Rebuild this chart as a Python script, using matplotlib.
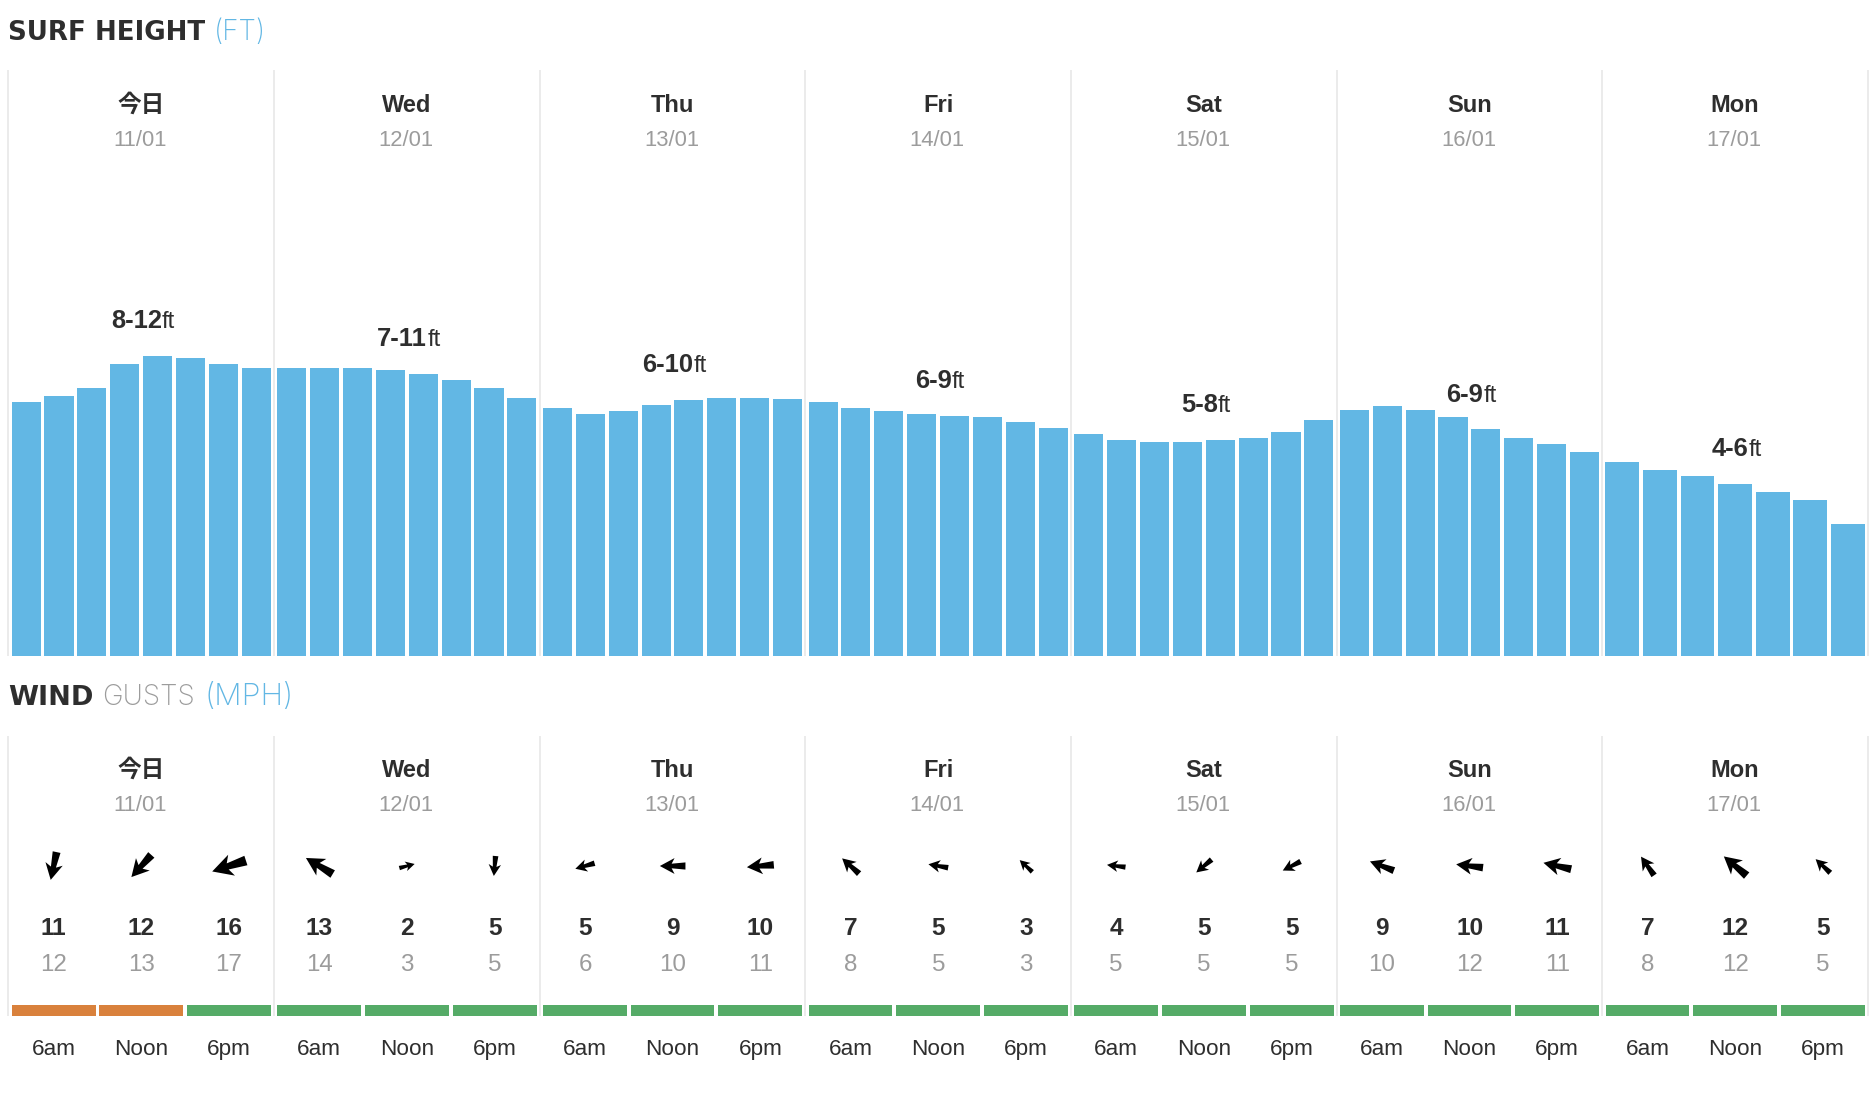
import matplotlib
matplotlib.use('Agg')
import matplotlib.pyplot as plt
from matplotlib.patches import PathPatch
from matplotlib.path import Path
from matplotlib.transforms import Affine2D

W, H = 1874, 1094

# ===== data =====
day_names = ['今日', 'Wed', 'Thu', 'Fri', 'Sat', 'Sun', 'Mon']
day_dates = ['11/01', '12/01', '13/01', '14/01', '15/01', '16/01', '17/01']
surf_ranges = ['8-12', '7-11', '6-10', '6-9', '5-8', '6-9', '4-6']
surf_ft = [
    [10.16, 10.40, 10.72, 11.68, 12.00, 11.92, 11.68, 11.52],
    [11.52, 11.52, 11.52, 11.44, 11.28, 11.04, 10.72, 10.32],
    [9.92, 9.68, 9.80, 10.04, 10.24, 10.32, 10.32, 10.28],
    [10.16, 9.92, 9.80, 9.68, 9.60, 9.56, 9.36, 9.12],
    [8.88, 8.64, 8.56, 8.56, 8.64, 8.72, 8.96, 9.44],
    [9.84, 10.00, 9.84, 9.56, 9.08, 8.72, 8.48, 8.16],
    [7.76, 7.44, 7.20, 6.88, 6.56, 6.24, 5.28],
]
time_labels = ['6am', 'Noon', '6pm']
wind_mph = [11, 12, 16, 13, 2, 5, 5, 9, 10, 7, 5, 3, 4, 5, 5, 9, 10, 11, 7, 12, 5]
gust_mph = [12, 13, 17, 14, 3, 5, 6, 10, 11, 8, 5, 3, 5, 5, 5, 10, 12, 11, 8, 12, 5]
wind_dir_deg = [258, 228, 198, 149, 15, 265, 196, 180, 185, 138, 170, 137,
                173, 220, 207, 159, 173, 167, 125, 140, 137]
wind_rating = ['bad', 'bad'] + ['good'] * 19

# ===== style =====
BLUE = '#62b7e4'
DARK = '#2e2e2e'
GREY = '#9c9c9c'
SEP = '#ebebeb'
RATING_COLORS = {'bad': '#d9813c', 'good': '#55ab67'}
SANS = ['Liberation Sans', 'DejaVu Sans']
CJK = ['Noto Sans CJK JP', 'DejaVu Sans']
HEAD_BOLD = ['DejaVu Sans']
HEAD_LIGHT = ['Inter', 'DejaVu Sans']

PX = 72 / 100  # 1 px in points at dpi 100
SEP_X0 = 8.4
DAY_W = 265.65
FT_PX = 25.0
SURF_BASE = 656

fig = plt.figure(figsize=(W / 100, H / 100), dpi=100, facecolor='white')
ax = fig.add_axes([0, 0, 1, 1])
ax.set_xlim(0, W)
ax.set_ylim(H, 0)
ax.axis('off')

# bars get their own axes with a feet scale
ax_surf = fig.add_axes([0, 1 - SURF_BASE / H, 1, 586 / H], zorder=2)
ax_surf.set_xlim(0, W)
ax_surf.set_ylim(0, 586 / FT_PX)
ax_surf.axis('off')
ax_surf.patch.set_alpha(0)


def spans(x, y, parts, center=False, gap=0.0):
    """Draw consecutive text parts on one baseline, (text, color, weight, family, size)"""
    r = fig.canvas.get_renderer()
    items = []
    cur = x
    for s, color, weight, fam, size in parts:
        t = ax.text(cur, y, s, color=color, fontweight=weight, family=fam,
                    fontsize=size, ha='left', va='baseline')
        cur += t.get_window_extent(r).width + gap
        items.append(t)
    if center:
        shift = (cur - gap - x) / 2
        for t in items:
            t.set_x(t.get_position()[0] - shift)


def separators(y0, y1):
    xs = [SEP_X0 + i * DAY_W for i in range(len(day_names) + 1)]
    ax.vlines(xs, y0, y1, color=SEP, lw=2.0 * PX, zorder=1)


def day_headers(y_name, y_date):
    for i, (name, date) in enumerate(zip(day_names, day_dates)):
        cx = SEP_X0 + i * DAY_W + DAY_W / 2
        fam = CJK if name == '今日' else SANS
        ax.text(cx, y_name, name, color=DARK, fontweight='bold', family=fam,
                fontsize=17, ha='center', va='baseline')
        ax.text(cx - 1, y_date, date, color=GREY, family=SANS,
                fontsize=15.8, ha='center', va='baseline')


def wind_arrow(cx, cy, mph, angle):
    length = 13 + 1.4 * mph
    verts = [(1, 0), (-0.15, 0.62), (0.08, 0.18), (-1, 0.28), (-1, -0.28),
             (0.08, -0.18), (-0.15, -0.62), (1, 0)]
    codes = [Path.MOVETO] + [Path.LINETO] * 6 + [Path.CLOSEPOLY]
    # y axis is flipped, so the compass-style angle is negated
    tr = Affine2D().scale(length / 2).rotate_deg(-angle).translate(cx, cy)
    ax.add_patch(PathPatch(Path(verts, codes).transformed(tr), fc='black', ec='none', zorder=3))


# ----- surf section -----
spans(8, 40, [('SURF HEIGHT', DARK, 'bold', HEAD_BOLD, 18.85),
              ('(FT)', BLUE, 'light', HEAD_LIGHT, 20)], gap=9)
separators(70, SURF_BASE)
day_headers(112, 146)

gap = 3.8
for i, vals in enumerate(surf_ft):
    left = SEP_X0 + i * DAY_W + 3.2
    n = len(vals)
    w = (259.2 - (n - 1) * gap) / n
    xs = [left + j * (w + gap) + w / 2 for j in range(n)]
    ax_surf.bar(xs, vals, width=w, color=BLUE, linewidth=0)
    # range label floats above the middle bar of the day
    mid_top = SURF_BASE - vals[(n - 1) // 2 + (1 if n % 2 == 0 else 0)] * FT_PX
    spans(SEP_X0 + i * DAY_W + DAY_W / 2 + 2, mid_top - 27.5,
          [(surf_ranges[i], DARK, 'bold', SANS, 18.4), ('ft', DARK, 'normal', SANS, 17)],
          center=True, gap=0)

# ----- wind section -----
spans(8, 705, [('WIND', DARK, 'bold', HEAD_BOLD, 19.6), ('GUSTS', GREY, 'light', HEAD_LIGHT, 20),
               ('(MPH)', BLUE, 'light', HEAD_LIGHT, 22)], gap=9)
separators(736, 1016)
day_headers(777, 811)

col_w = 83.7
col_gap = 4.0
for k in range(len(wind_mph)):
    d, c = divmod(k, 3)
    x0 = SEP_X0 + d * DAY_W + 3.4 + c * (col_w + col_gap)
    cx = x0 + col_w / 2
    ax.bar(cx, 10.5, bottom=1005, width=col_w, color=RATING_COLORS[wind_rating[k]],
           linewidth=0, zorder=2)
    wind_arrow(cx, 866, wind_mph[k], wind_dir_deg[k])
    ax.text(cx, 935, str(wind_mph[k]), color=DARK, fontweight='bold', family=SANS,
            fontsize=17.6, ha='center', va='baseline')
    ax.text(cx, 971, str(gust_mph[k]), color=GREY, family=SANS,
            fontsize=17.4, ha='center', va='baseline')
    ax.text(cx, 1055, time_labels[c], color=DARK, family=SANS,
            fontsize=16.2, ha='center', va='baseline')

ax.set_xlim(0, W)
ax.set_ylim(H, 0)
fig.savefig('out.png', dpi=100)
